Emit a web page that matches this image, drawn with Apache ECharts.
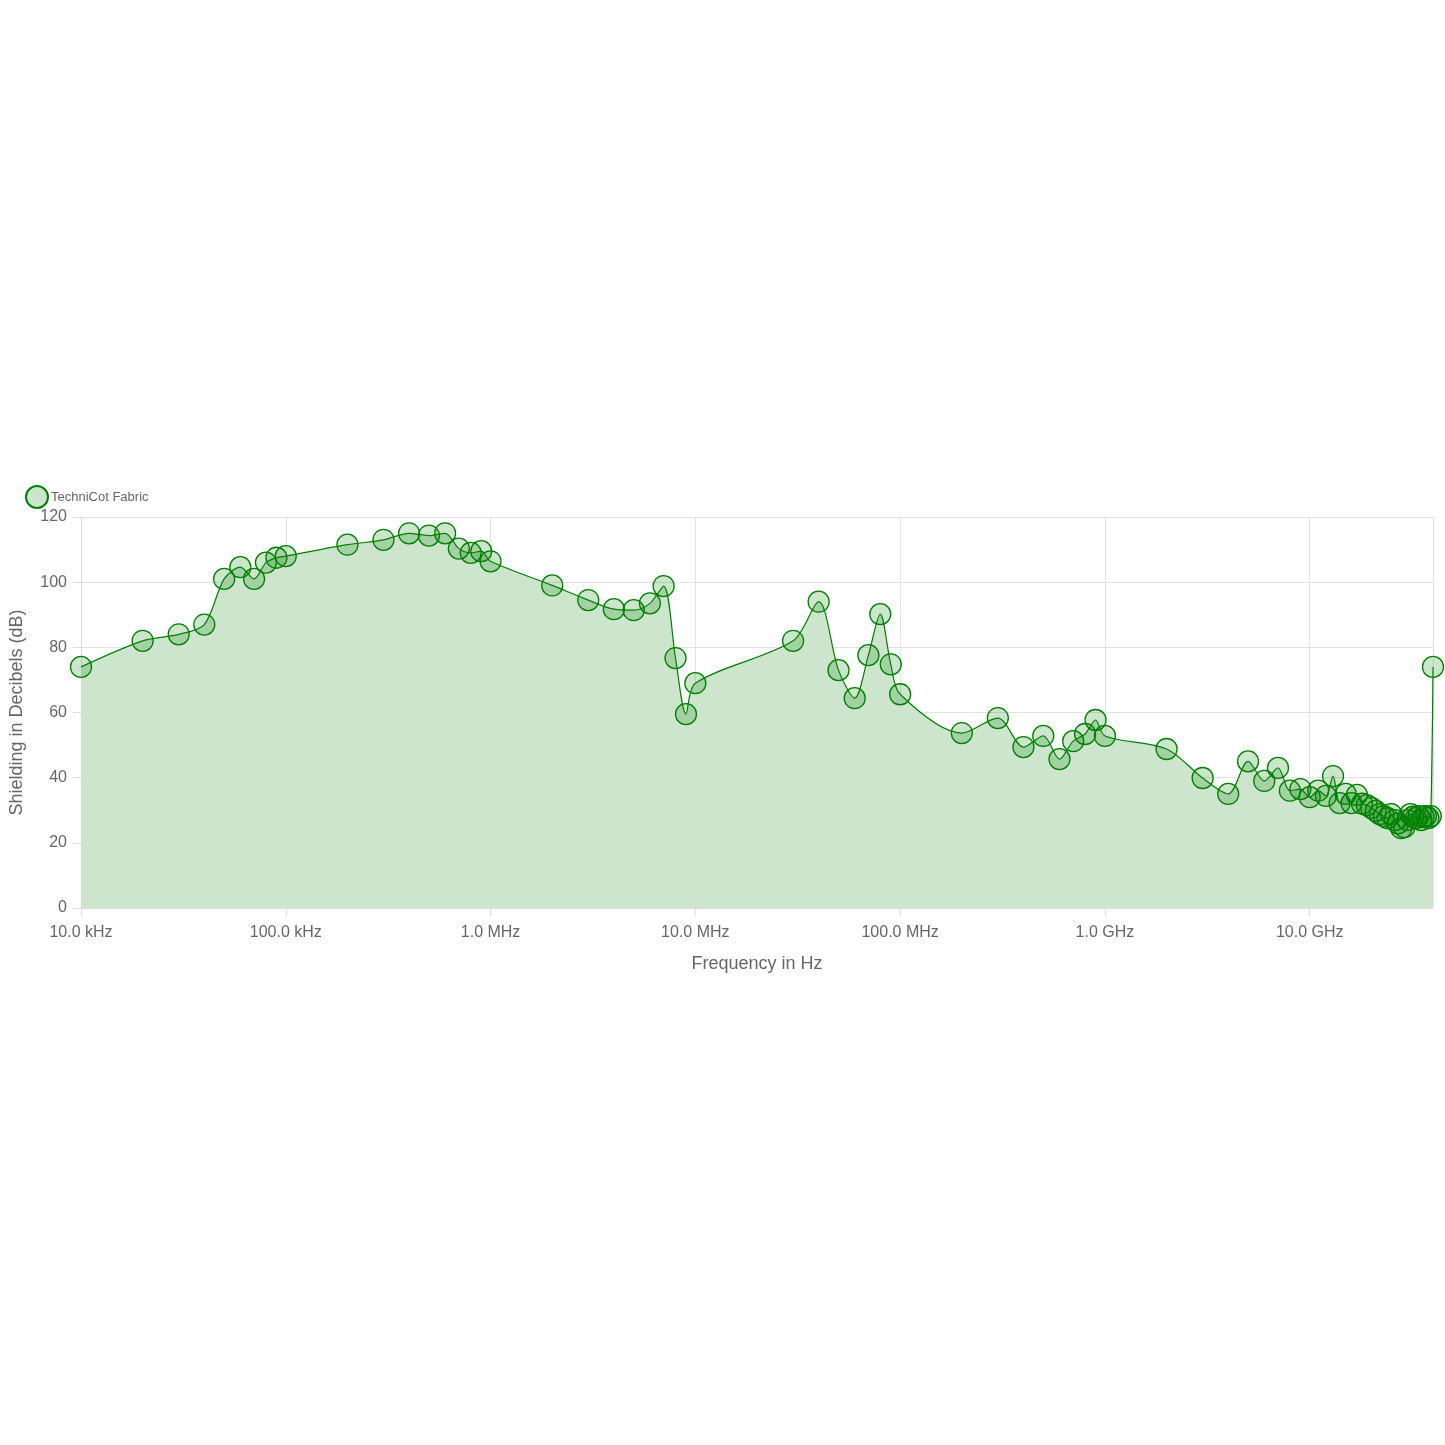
<!DOCTYPE html>
<html><head><meta charset="utf-8">
<script src="https://cdn.jsdelivr.net/npm/echarts@6/dist/echarts.min.js"></script>
<style>html,body{margin:0;padding:0;background:#fff}#c{width:1445px;height:1445px}</style>
</head><body><div id="c"></div>
<script>
const freqs = [1e4,2e4,3e4,4e4,5e4,6e4,7e4,8e4,9e4,1e5,2e5,3e5,4e5,5e5,6e5,7e5,8e5,9e5,1e6,
2e6,3e6,4e6,5e6,6e6,7e6,8e6,9e6,1e7,3e7,4e7,5e7,6e7,7e7,8e7,9e7,1e8,
2e8,3e8,4e8,5e8,6e8,7e8,8e8,9e8,1e9,2e9,3e9,4e9,5e9,6e9,7e9,8e9,9e9,1e10,
1.1e10,1.2e10,1.3e10,1.4e10,1.5e10,1.6e10,1.7e10,1.8e10,1.9e10,2e10,2.1e10,2.2e10,2.3e10,2.4e10,2.5e10,
2.6e10,2.7e10,2.8e10,2.9e10,3e10,3.1e10,3.2e10,3.3e10,3.4e10,3.5e10,3.6e10,3.7e10,3.8e10,3.9e10,4e10];
const shielding = [74,82,84,87,101,104.6,101,106,107.5,108,111.5,113,115,114.3,115,110.3,109,109.5,106.4,
99,94.5,91.7,91.4,93.5,98.8,76.7,59.5,69,82,94,73,64.4,77.6,90.2,74.8,65.6,
53.7,58.3,49.4,52.8,45.7,51.2,53.4,57.7,52.8,48.8,39.9,35,45,39,43,36,36.5,34,
36,34.4,40.5,32.2,35,32.2,34.7,32,31.6,30.7,29.8,28.8,28.2,27.6,28.8,
27,26,24.5,24.8,27,28.8,28,27.6,28.2,27,28,28.2,27.6,28.2,74];
const yTicks = [0,20,40,60,80,100,120];
const seriesName = 'TechniCot Fabric';

function fmt(v){
  const units=[[1e9,'GHz'],[1e6,'MHz'],[1e3,'kHz']];
  for(const [u,n] of units){ if(v>=u) return (v/u).toFixed(1)+' '+n; }
  return v.toFixed(1)+' Hz';
}
const chart = echarts.init(document.getElementById('c'));
const txt = '#666';
chart.setOption({
  animation:false,
  textStyle:{fontFamily:'Helvetica, Arial, "Liberation Sans", sans-serif'},
  legend:{left:20,top:480,itemWidth:22,itemHeight:22,itemGap:4,icon:'circle',
    textStyle:{color:txt,fontSize:13,padding:[0,0,0,-2]},data:[seriesName]},
  grid:{left:77,right:12,top:517,bottom:537,containLabel:false},
  xAxis:{type:'log',logBase:10,min:1e4,max:4e10,
    name:'Frequency in Hz',nameLocation:'middle',nameGap:47,nameTextStyle:{color:txt,fontSize:18},
    axisLine:{show:true,lineStyle:{color:'#ddd'}},axisTick:{show:true,length:8,lineStyle:{color:'#ddd'}},
    axisLabel:{color:txt,fontSize:16,formatter:fmt,showMaxLabel:false,margin:17},
    splitLine:{show:true,lineStyle:{color:'#e3e3e3'}}},
  yAxis:{type:'value',min:yTicks[0],max:yTicks[yTicks.length-1],interval:20,
    name:'Shielding in Decibels (dB)',nameLocation:'middle',nameGap:55,nameTextStyle:{color:txt,fontSize:18},
    axisLine:{show:true,lineStyle:{color:'#ddd'}},axisTick:{show:true,length:8,lineStyle:{color:'#ddd'}},
    axisLabel:{color:txt,fontSize:16,margin:14},
    splitLine:{show:true,lineStyle:{color:'#e3e3e3'}}},
  series:[{name:seriesName,type:'line',smooth:0.3,
    data:freqs.map((f,i)=>[f,shielding[i]]),
    symbol:'circle',symbolSize:21,
    itemStyle:{color:'rgba(0,128,0,0.2)',borderColor:'#008000',borderWidth:1.3},
    lineStyle:{color:'#008000',width:1.2},
    areaStyle:{color:'#cde5cc',opacity:1,origin:'start'}}]
});
</script></body></html>
